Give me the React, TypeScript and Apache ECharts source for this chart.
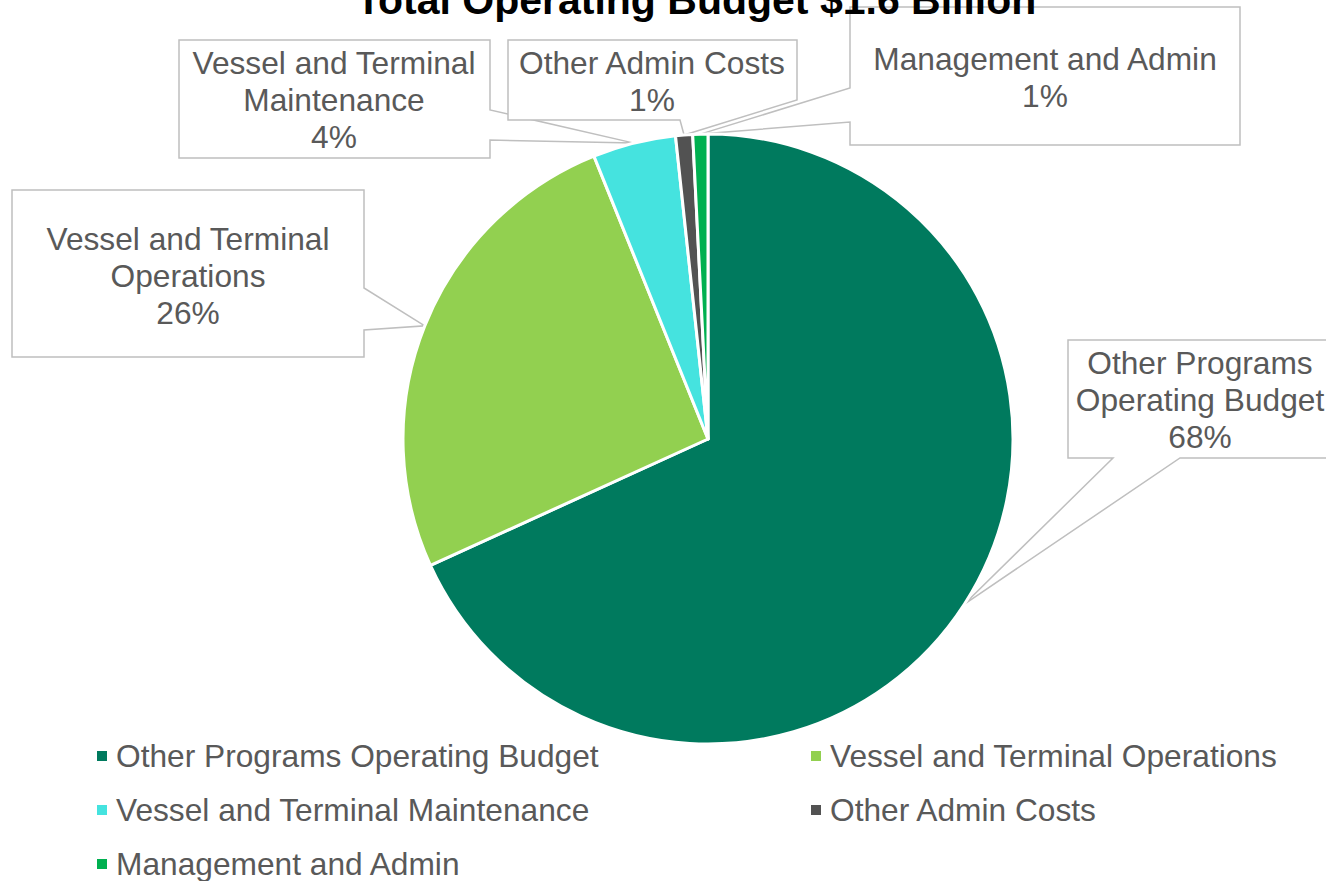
import React, { useEffect, useRef } from "react";
import * as echarts from "echarts";

// ---- data ----
const categories = [
  "Other Programs Operating Budget",
  "Vessel and Terminal Operations",
  "Vessel and Terminal Maintenance",
  "Other Admin Costs",
  "Management and Admin",
];
const labelNames = [
  "Other Programs\nOperating Budget",
  "Vessel and Terminal\nOperations",
  "Vessel and Terminal\nMaintenance",
  "Other Admin Costs",
  "Management and Admin",
];
const shares = [68.2, 25.7, 4.4, 0.9, 0.8];
const colors = ["#007A5E", "#92D050", "#45E3DF", "#525252", "#00B050"];
const titleText = "Total Operating Budget $1.6 Billion";

// ---- layout ----
const CENTER = [708, 439];
const RADIUS = 305;
const FONT = "'Liberation Sans', Arial, sans-serif";
const TEXT_COLOR = "#595959";
// legend grid: two columns, three rows
const legendCols = [97, 811];
const legendRowCenters = [756, 810, 864];

type Callout = {
  box: [number, number, number, number];
  text: [number, number];
  side: "bottom" | "right" | "left" | "cornerBR";
  base: [number, number];
};
const callouts: Callout[] = [
  { box: [1068, 340, 1345, 458], text: [1200, 400], side: "bottom", base: [1113, 1180] },
  { box: [12, 190, 364, 357], text: [188, 276], side: "right", base: [288, 330] },
  { box: [179, 40, 490, 158], text: [334, 100], side: "right", base: [110, 140] },
  { box: [508, 40, 797, 120], text: [652, 81], side: "cornerBR", base: [100, 680] },
  { box: [850, 7, 1240, 145], text: [1045, 77], side: "left", base: [88, 122] },
];

function tipPoints(): number[][] {
  const total = shares.reduce((a, b) => a + b, 0);
  let cum = 0;
  return shares.map((v) => {
    const f = (cum + v / 2) / total;
    cum += v;
    const t = f * Math.PI * 2;
    return [CENTER[0] + RADIUS * Math.sin(t), CENTER[1] - RADIUS * Math.cos(t)];
  });
}

function calloutPolygon(c: Callout, tip: number[]): number[][] {
  const [l, t, r, b] = c.box;
  switch (c.side) {
    case "bottom":
      return [[l, t], [r, t], [r, b], [c.base[1], b], tip, [c.base[0], b], [l, b]];
    case "right":
      return [[l, t], [r, t], [r, c.base[0]], tip, [r, c.base[1]], [r, b], [l, b]];
    case "left":
      return [[l, t], [r, t], [r, b], [l, b], [l, c.base[1]], tip, [l, c.base[0]]];
    case "cornerBR":
    default:
      return [[l, t], [r, t], [r, c.base[0]], tip, [c.base[1], b], [l, b]];
  }
}

export default function App() {
  const ref = useRef<HTMLDivElement>(null);
  useEffect(() => {
    if (!ref.current) return;
    const chart = echarts.init(ref.current, undefined, { renderer: "svg" });
    const tips = tipPoints();
    const LEGEND_LH = 38;
    const legends = categories.map((name, i) => ({
      orient: "horizontal",
      left: legendCols[i % 2],
      top: legendRowCenters[Math.floor(i / 2)] - LEGEND_LH / 2,
      padding: 0,
      icon: "rect",
      itemWidth: 10,
      itemHeight: 10,
      itemStyle: { borderWidth: 0 },
      selectedMode: false,
      data: [name],
      textStyle: {
        fontFamily: FONT,
        fontSize: 31.7,
        lineHeight: LEGEND_LH,
        color: TEXT_COLOR,
        padding: [0, 0, 0, 4],
      },
    }));
    chart.setOption({
      animation: false,
      color: colors,
      title: {
        text: titleText,
        left: 351,
        top: -26,
        z: 10,
        textStyle: {
          fontFamily: FONT,
          fontSize: 41,
          lineHeight: 41,
          fontWeight: "bold",
          color: "#000000",
        },
      },
      legend: legends,
      graphic: callouts.map((c, i) => ({
        type: "polygon",
        z: 1,
        silent: true,
        shape: { points: calloutPolygon(c, tips[i]) },
        style: { fill: "#ffffff", stroke: "#BFBFBF", lineWidth: 1.5 },
      })),
      series: [
        {
          type: "pie",
          z: 2,
          center: CENTER,
          radius: RADIUS,
          startAngle: 90,
          clockwise: true,
          avoidLabelOverlap: false,
          itemStyle: { borderColor: "#ffffff", borderWidth: 3 },
          emphasis: { disabled: true },
          label: {
            show: true,
            position: "outside",
            fontFamily: FONT,
            fontSize: 31.7,
            lineHeight: 37,
            color: TEXT_COLOR,
            align: "center",
            formatter: (p: any) => `${labelNames[p.dataIndex]}\n${Math.round(p.percent)}%`,
          },
          labelLine: { show: false },
          labelLayout: (p: any) => {
            const c = callouts[p.dataIndex];
            return { x: c.text[0], y: c.text[1], align: "center", verticalAlign: "middle" };
          },
          data: categories.map((name, i) => ({ name, value: shares[i] })),
        },
      ],
    });
    return () => chart.dispose();
  }, []);
  return (
    <div
      ref={ref}
      style={{ position: "absolute", left: 0, top: 0, width: 1326, height: 881, background: "#ffffff" }}
    />
  );
}
